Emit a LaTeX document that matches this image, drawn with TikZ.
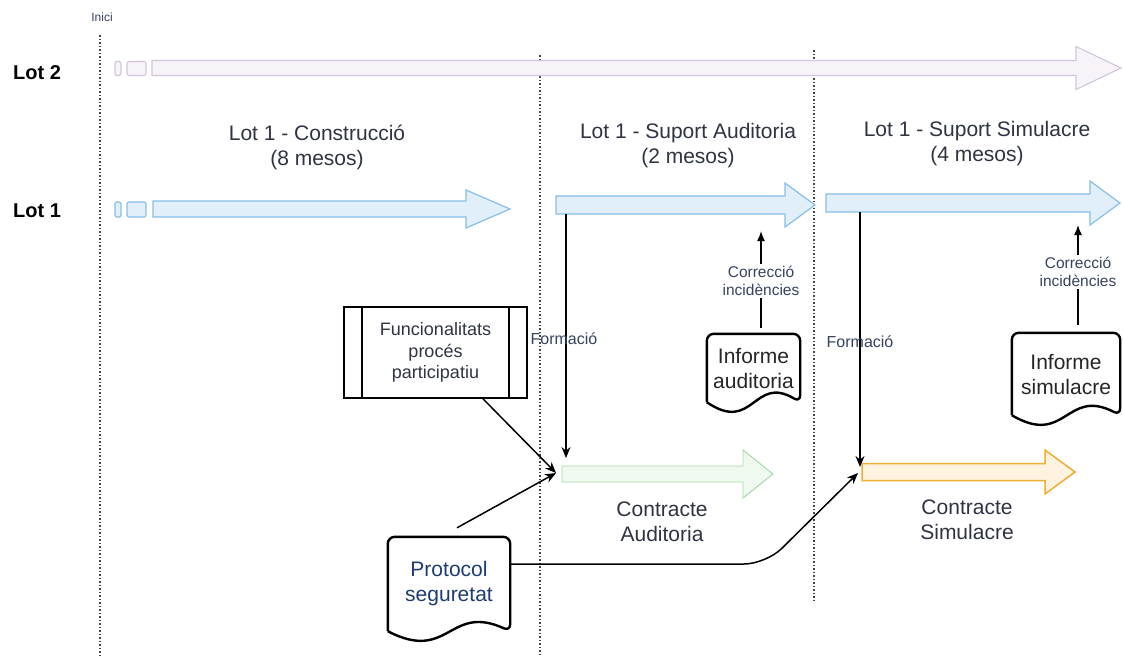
\documentclass[tikz,border=0pt]{standalone}
\usepackage{fontspec}
\setmainfont{Liberation Sans}
\usetikzlibrary{arrows.meta,calc}
\definecolor{lavfill}{HTML}{F7F3F9}
\definecolor{lavdraw}{HTML}{D2C6DE}
\definecolor{bluefill}{HTML}{E1EFFA}
\definecolor{bluedraw}{HTML}{88BFE6}
\definecolor{greenfill}{HTML}{F0F9F0}
\definecolor{greendraw}{HTML}{A4D8A4}
\definecolor{orangefill}{HTML}{FFF3DF}
\definecolor{orangedraw}{HTML}{F0AE34}
\definecolor{headtxt}{HTML}{2E3442}
\definecolor{protxt}{HTML}{1E3C70}
\definecolor{smalltxt}{HTML}{364260}
\definecolor{guide}{HTML}{444444}
\newcommand\blockarrow[7]{%
  \draw[#1] (#2,#5-#6) -- (#3,#5-#6) -- (#3,#5-#7) -- (#4,#5) -- (#3,#5+#7) -- (#3,#5+#6) -- (#2,#5+#6) -- cycle;}
\newcommand\arrowstubs[3]{%
  \draw[#1, rounded corners=1.5pt] (115,#2-#3) rectangle (121,#2+#3);
  \draw[#1, rounded corners=2pt] (127,#2-#3) rectangle (146,#2+#3);}
\newcommand\docoutline[1]{%
  \draw[docline, rounded corners=7pt] (#1.south west) -- (#1.north west) -- (#1.north east) -- (#1.south east)
    .. controls ($(#1.south)+(0,-28)$) and ($(#1.south)+(0,32)$) .. (#1.south west);}
\begin{document}
\begin{tikzpicture}[x=1pt,y=-1pt,
  guideline/.style={draw=guide, line width=1.6pt, dash pattern=on 1.5pt off 2pt},
  lottxt/.style={font=\bfseries\fontsize{20}{24}\selectfont, text=black},
  headnode/.style={font=\fontsize{21}{25}\selectfont, text=headtxt, align=center},
  lot2arrow/.style={fill=lavfill, draw=lavdraw, line width=1.1pt},
  lot1arrow/.style={fill=bluefill, draw=bluedraw, line width=1.2pt},
  greenarrow/.style={fill=greenfill, draw=greendraw, line width=0.9pt},
  orangearrow/.style={fill=orangefill, draw=orangedraw, line width=1.5pt},
  docline/.style={draw=black, line width=2.4pt},
  docnode/.style={inner sep=0pt, align=center, font=\fontsize{21}{25}\selectfont},
  procnode/.style={draw=black, line width=1.6pt, inner sep=0pt, align=center,
    font=\fontsize{18}{21.5}\selectfont, text=headtxt},
  smalllab/.style={font=\fontsize{15.5}{18}\selectfont, text=smalltxt, align=center, inner sep=2pt},
  formlab/.style={font=\fontsize{16}{19}\selectfont, text=smalltxt, inner sep=0pt},
  conn/.style={draw=black, line width=1.5pt},
  connarrow/.style={conn, -{Stealth[length=11pt,width=9pt]}},
  corrarrow/.style={conn, -{Latex[length=10pt,width=8pt]}}
]
\useasboundingbox (0,0) rectangle (1123,656);
\fill[white] (0,0) rectangle (1123,656);

% guide lines
\draw[guideline] (100,35) -- (100,656);
\draw[guideline] (540,55) -- (540,656);
\draw[guideline] (814,50) -- (814,600);
\node[font=\fontsize{12}{14}\selectfont, text=smalltxt] (inici) at (102,17) {Inici};

% lot labels
\node[lottxt] (lot2) at (37,73) {Lot 2};
\node[lottxt] (lot1) at (37,211) {Lot 1};

% Lot 2 arrow
\arrowstubs{lot2arrow}{68.5}{7}
\blockarrow{lot2arrow}{152}{1076}{1121}{68}{7.5}{21.5}

% Lot 1 arrows
\arrowstubs{lot1arrow}{209.5}{7.5}
\blockarrow{lot1arrow}{153}{466}{510}{209}{8}{19}
\blockarrow{lot1arrow}{556}{785}{815}{205}{9}{22}
\blockarrow{lot1arrow}{826}{1090}{1120}{203}{9}{22}

% headers
\node[headnode] (h1) at (317,147.5) {Lot 1 - Construcció\\(8 mesos)};
\node[headnode] (h2) at (688,145.5) {Lot 1 - Suport Auditoria\\(2 mesos)};
\node[headnode] (h3) at (977,144) {Lot 1 - Suport Simulacre\\(4 mesos)};

% contract arrows
\blockarrow{greenarrow}{562}{743}{773}{474}{8}{24}
\blockarrow{orangearrow}{862}{1045}{1075}{472}{8.5}{22}
\node[headnode] (ca) at (662,521.5) {Contracte\\Auditoria};
\node[headnode] (cs) at (967,520) {Contracte\\Simulacre};

% hubs and endpoints
\coordinate (hubA) at (556,473);
\coordinate (hubB) at (858,473);
\coordinate (f1top) at (566,214);
\coordinate (f1end) at (566,458);
\coordinate (f2top) at (860,212);
\coordinate (f2end) at (860,467);
\coordinate (t1) at (761,231);
\coordinate (t2) at (1078,225);

% Funcionalitats box
\node[procnode, minimum width=183pt, minimum height=91pt] (fp) at (435.5,352.5)
  {Funcionalitats\\procés\\participatiu};
\draw[conn, line width=1.6pt] ([xshift=19pt]fp.north west) -- ([xshift=19pt]fp.south west);
\draw[conn, line width=1.6pt] ([xshift=-19pt]fp.north east) -- ([xshift=-19pt]fp.south east);

% documents
\node[docnode, text=protxt, minimum width=122pt, minimum height=94pt] (ps) at (449,584) {Protocol\\seguretat};
\docoutline{ps}
\node[docnode, text=black!85, minimum width=93pt, minimum height=68pt] (ia) at (753.5,368) {Informe\\auditoria};
\docoutline{ia}
\node[docnode, text=black!85, minimum width=108pt, minimum height=82pt] (is) at (1066,374) {Informe\\simulacre};
\docoutline{is}

% Formacio
\draw[connarrow] (f1top) -- (f1end);
\node[formlab] (fl1) at (564,339) {Formació};
\draw[connarrow] (f2top) -- (f2end);
\node[formlab] (fl2) at (860,342) {Formació};

% Correccio incidencies
\node[smalllab] (c1) at (761,281) {Correcció\\incidències};
\draw[conn] ([yshift=6pt]ia.north -| c1) -- (c1.south);
\draw[corrarrow] (c1.north) -- (t1);
\node[smalllab] (c2) at (1078,272) {Correcció\\incidències};
\draw[conn] ([yshift=8pt]is.north -| c2) -- (c2.south);
\draw[corrarrow] (c2.north) -- (t2);

% connectors to contracts
\draw[connarrow] ([xshift=47.5pt]fp.south) -- (hubA);
\draw[connarrow] ([xshift=8pt,yshift=9pt]ps.north) -- (hubA);
\draw[connarrow, rounded corners=22pt] ([yshift=20pt]ps.east) -- (766,564) -- (hubB);
\end{tikzpicture}
\end{document}
